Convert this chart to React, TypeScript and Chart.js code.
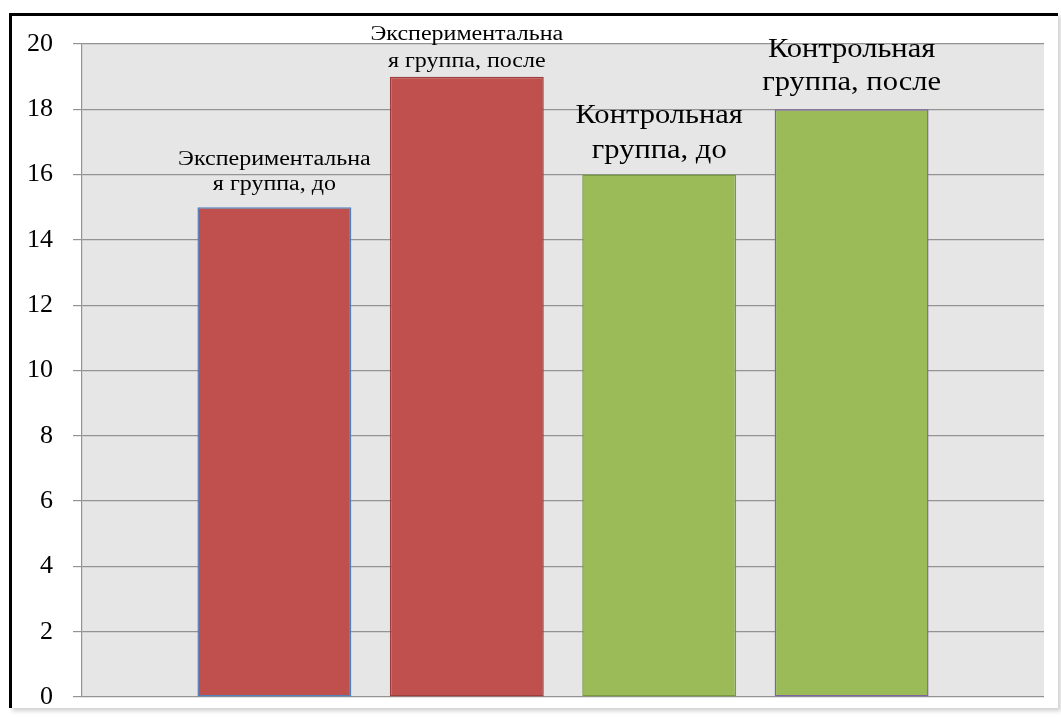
import React, { useEffect, useRef } from "react";
import { Chart, registerables } from "chart.js";

Chart.register(...registerables);

// Category slots: empty slot on each side so the bars sit on the inner gridline positions
const categories = ["", "exp-before", "exp-after", "ctrl-before", "ctrl-after", ""];
const scores = [null, 15, 19, 16, 18, null];

const barLabels: string[][] = [
  [],
  ["Экспериментальна", "я группа, до"],
  ["Экспериментальна", "я группа, после"],
  ["Контрольная", "группа, до"],
  ["Контрольная", "группа, после"],
  [],
];

const fillColors = ["", "#c0504d", "#c0504d", "#9bbb59", "#9bbb59", ""];
const borderColors = ["", "#4f81bd", "#9c3e3b", "#7a9a40", "#8064a2", ""];

const yMin = 0;
const yMax = 20;
const yStep = 2;

// Per-label text style: font size, horizontal stretch, line spacing,
// gap between the last baseline and the bar top
const labelFontSize = [0, 20, 20, 28, 28, 0];
const labelStretch = [1, 1.2, 1.2, 1.09, 1.09, 1];
const labelLineHeight = [0, 25, 27, 35, 33, 0];
const labelGap = [0, 17, 10, 17, 19, 0];

const SERIF = "'Liberation Serif', 'Times New Roman', serif";

const plotBackground = {
  id: "plotBackground",
  beforeDraw(chart: Chart) {
    const { ctx, chartArea } = chart;
    ctx.save();
    ctx.fillStyle = "#e6e6e6";
    ctx.fillRect(chartArea.left, chartArea.top, chartArea.right - chartArea.left, chartArea.bottom - chartArea.top);
    ctx.restore();
  },
};

const barTextLabels = {
  id: "barTextLabels",
  afterDatasetsDraw(chart: Chart) {
    const { ctx } = chart;
    const meta = chart.getDatasetMeta(0);
    meta.data.forEach((el: any, i: number) => {
      const lines = barLabels[i];
      if (!lines || !lines.length || scores[i] == null) return;
      const lh = labelLineHeight[i];
      const lastBaseline = el.y - labelGap[i];
      lines.forEach((line, j) => {
        const y = lastBaseline - (lines.length - 1 - j) * lh;
        ctx.save();
        ctx.fillStyle = "#000";
        ctx.textAlign = "center";
        ctx.textBaseline = "alphabetic";
        ctx.font = `${labelFontSize[i]}px ${SERIF}`;
        ctx.translate(el.x, y);
        ctx.scale(labelStretch[i], 1);
        ctx.fillText(line, 0, 0);
        ctx.restore();
      });
    });
  },
};

export default function App() {
  const canvasRef = useRef<HTMLCanvasElement | null>(null);

  useEffect(() => {
    if (!canvasRef.current) return;
    const chart = new Chart(canvasRef.current, {
      type: "bar",
      data: {
        labels: categories,
        datasets: [
          {
            data: scores,
            backgroundColor: fillColors,
            borderColor: borderColors,
            borderWidth: 1.5,
            borderSkipped: false,
            categoryPercentage: 1,
            barPercentage: 0.8,
          },
        ],
      },
      options: {
        animation: false,
        responsive: false,
        maintainAspectRatio: false,
        layout: { padding: { top: 44, bottom: 21, right: 17, left: 0 } },
        plugins: {
          legend: { display: false },
          tooltip: { enabled: false },
          title: { display: false },
        },
        scales: {
          x: {
            type: "category",
            offset: false,
            display: false,
            grid: { display: false },
          },
          y: {
            min: yMin,
            max: yMax,
            afterFit(scale: any) {
              scale.width = 82;
              scale.paddingTop = 0;
              scale.paddingBottom = 0;
            },
            ticks: {
              stepSize: yStep,
              color: "#000",
              padding: 20,
              font: { family: SERIF, size: 26 },
            },
            grid: {
              color: "#939393",
              lineWidth: 1.2,
              tickLength: 9,
              drawTicks: true,
            },
            border: { display: true, color: "#939393", width: 1.2 },
          },
        },
      },
      plugins: [plotBackground, barTextLabels],
    });
    return () => chart.destroy();
  }, []);

  return (
    <div
      style={{
        position: "fixed",
        left: 0,
        top: 0,
        width: 1061,
        height: 718,
        background: "#fff",
        overflow: "hidden",
      }}
    >
      <div
        style={{
          position: "absolute",
          left: 9,
          top: 13,
          width: 1046,
          height: 692,
          borderLeft: "3px solid #000",
          borderTop: "3px solid #000",
          background: "#fff",
          boxShadow: "3px 3px 4px rgba(0,0,0,0.18)",
        }}
      />
      <canvas
        ref={canvasRef}
        width={1061}
        height={718}
        style={{ position: "absolute", left: 0, top: 0, width: 1061, height: 718 }}
      />
    </div>
  );
}
